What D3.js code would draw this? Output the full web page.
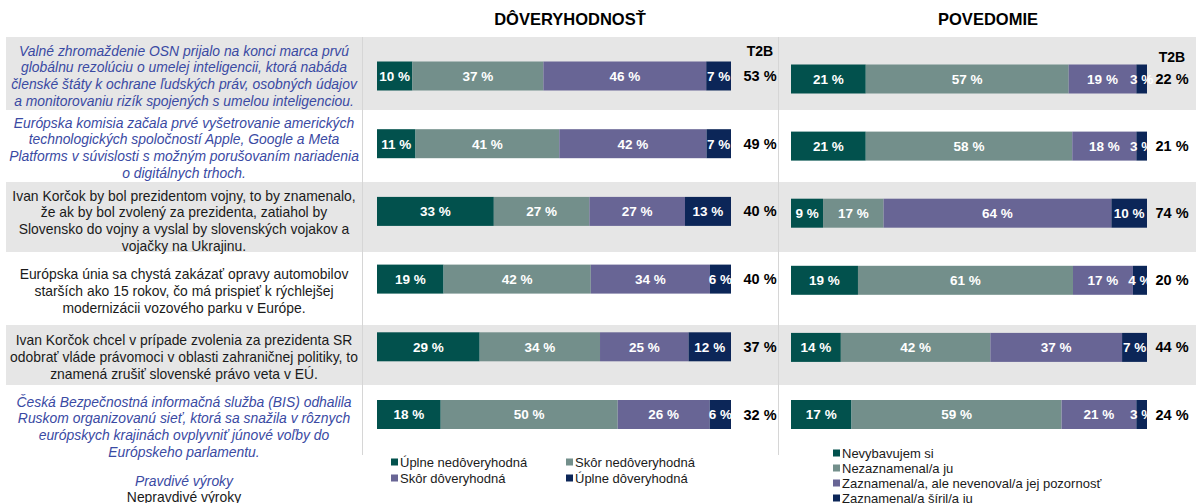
<!DOCTYPE html>
<html><head><meta charset="utf-8">
<script src="https://cdn.jsdelivr.net/npm/d3@7"></script>
<style>html,body{margin:0;padding:0;background:#fff}svg{display:block;font-family:"Liberation Sans",Arial,sans-serif}</style>
</head><body>
<svg id="c" width="1196" height="503"></svg>
<script>
// ---------- DATA ----------
const statements = [
  ["Valné zhromaždenie OSN prijalo na konci marca prvú","globálnu rezolúciu o umelej inteligencii, ktorá nabáda","členské štáty k ochrane ľudských práv, osobných údajov","a monitorovaniu rizík spojených s umelou inteligenciou."],
  ["Európska komisia začala prvé vyšetrovanie amerických","technologických spoločností Apple, Google a Meta","Platforms v súvislosti s možným porušovaním nariadenia","o digitálnych trhoch."],
  ["Ivan Korčok by bol prezidentom vojny, to by znamenalo,","že ak by bol zvolený za prezidenta, zatiahol by","Slovensko do vojny a vyslal by slovenských vojakov a","vojačky na Ukrajinu."],
  ["Európska únia sa chystá zakázať opravy automobilov","starších ako 15 rokov, čo má prispieť k rýchlejšej","modernizácii vozového parku v Európe."],
  ["Ivan Korčok chcel v prípade zvolenia za prezidenta SR","odobrať vláde právomoci v oblasti zahraničnej politiky, to","znamená zrušiť slovenské právo veta v EÚ."],
  ["Česká Bezpečnostná informačná služba (BIS) odhalila","Ruskom organizovanú sieť, ktorá sa snažila v rôznych","európskych krajinách ovplyvniť júnové voľby do","Európskeho parlamentu."]
];
const isTrue = [true, true, false, false, false, true];
const trustSeries = ["Úplne nedôveryhodná","Skôr nedôveryhodná","Skôr dôveryhodná","Úplne dôveryhodná"];
const awareSeries = ["Nevybavujem si","Nezaznamenal/a ju","Zaznamenal/a, ale nevenoval/a jej pozornosť","Zaznamenal/a šíril/a ju"];
const trustValues = [[10,37,46,7],[11,41,42,7],[33,27,27,13],[19,42,34,6],[29,34,25,12],[18,50,26,6]];
const trustT2B = [53,49,40,40,37,32];
const awareValues = [[21,57,19,3],[21,58,18,3],[9,17,64,10],[19,61,17,4],[14,42,37,7],[17,59,21,3]];
const awareT2B = [22,21,74,20,44,24];
const panelTitles = ["DÔVERYHODNOSŤ","POVEDOMIE"];
const footerLabels = ["Pravdivé výroky","Nepravdivé výroky"];
const t2bLabel = "T2B";

// ---------- STYLE / LAYOUT ----------
const colors = ["#02514d","#738f8b","#686595","#0c2658"];
const blue = "#3a4aa3", black = "#1a1a1a";
const svg = d3.select("#c");
const rows = d3.range(statements.length);

// gray bands (alternate rows)
const bands = [[37,110],[182,252],[325,385]];
svg.selectAll("rect.band").data(bands).join("rect")
  .attr("x",6).attr("y",d=>d[0]).attr("width",1190).attr("height",d=>d[1]-d[0]).attr("fill","#e6e6e6");
// separators
[362,778].forEach(x=>svg.append("line").attr("x1",x+0.5).attr("x2",x+0.5).attr("y1",37).attr("y2",455)
  .attr("stroke","#d6d6d6").attr("stroke-width",1));

// statement texts
const textCenters = [76,148,221,291,357,427];
const lh = 16.7;
rows.forEach(i=>{
  const lines = statements[i];
  const t = svg.append("text").attr("text-anchor","middle")
    .attr("font-size","13.9px")
    .attr("fill",isTrue[i]?blue:black)
    .attr("font-style",isTrue[i]?"italic":"normal");
  lines.forEach((l,k)=>{
    t.append("tspan").attr("x",184)
      .attr("y",textCenters[i]+(k-(lines.length-1)/2)*lh+4.8).text(l);
  });
});
// footer
footerLabels.forEach((l,k)=>svg.append("text").attr("x",184).attr("y",486+k*16).attr("text-anchor","middle")
  .attr("font-size","13.9px").attr("fill",k===0?blue:black).attr("font-style",k===0?"italic":"normal").text(l));

// panels
const panels = [
  {title:panelTitles[0], titleX:570, values:trustValues, t2b:trustT2B, x0:377, x1:731, yr:[76,414.5], t2bX:760, t2bHY:56},
  {title:panelTitles[1], titleX:988, values:awareValues, t2b:awareT2B, x0:791, x1:1147, yr:[79,414.5], t2bX:1172, t2bHY:62}
];
const barH = 29;
panels.forEach(p=>{
  svg.append("text").attr("x",p.titleX).attr("y",25).attr("text-anchor","middle")
    .attr("font-size","16.5px").attr("font-weight","bold").attr("fill","#000").text(p.title);
  const y = d3.scalePoint().domain(rows).range(p.yr);
  svg.append("text").attr("x",p.t2bX).attr("y",p.t2bHY).attr("text-anchor","middle")
    .attr("font-size","14px").attr("font-weight","bold").attr("fill","#000").text(t2bLabel);
  rows.forEach(i=>{
    const vals = p.values[i];
    const x = d3.scaleLinear().domain([0,d3.sum(vals)]).range([p.x0,p.x1]);
    const stack = d3.cumsum(vals);
    const segs = vals.map((v,j)=>({v, j, s:stack[j]-v, e:stack[j]}));
    const g = svg.append("g");
    g.selectAll("rect").data(segs).join("rect")
      .attr("x",d=>x(d.s)).attr("width",d=>x(d.e)-x(d.s))
      .attr("y",y(i)-barH/2).attr("height",barH).attr("fill",d=>colors[d.j]);
    g.selectAll("text").data(segs).join("text")
      .attr("x",d=>(x(d.s)+x(d.e))/2).attr("y",y(i)+4.8).attr("text-anchor","middle")
      .attr("font-size","13.5px").attr("font-weight","bold").attr("fill","#fff")
      .text(d=>d.v+" %");
    svg.append("text").attr("x",p.t2bX).attr("y",y(i)+5).attr("text-anchor","middle")
      .attr("font-size","14.5px").attr("font-weight","bold").attr("fill","#000").text(p.t2b[i]+" %");
  });
});

// legends
const legL = svg.append("g");
trustSeries.forEach((s,j)=>{
  const lx = j%2===0?391:566, ly = j<2?462:478;
  legL.append("rect").attr("x",lx).attr("y",ly-3.5).attr("width",7).attr("height",7).attr("fill",colors[j]);
  legL.append("text").attr("x",lx+9).attr("y",ly+4.6).attr("font-size","13px").attr("fill",black).text(s);
});
const legR = svg.append("g");
awareSeries.forEach((s,j)=>{
  const lx = 833, ly = 453+j*15;
  legR.append("rect").attr("x",lx).attr("y",ly-3.5).attr("width",7).attr("height",7).attr("fill",colors[j]);
  legR.append("text").attr("x",lx+9).attr("y",ly+4.6).attr("font-size","13px").attr("fill",black).text(s);
});
</script>
</body></html>
